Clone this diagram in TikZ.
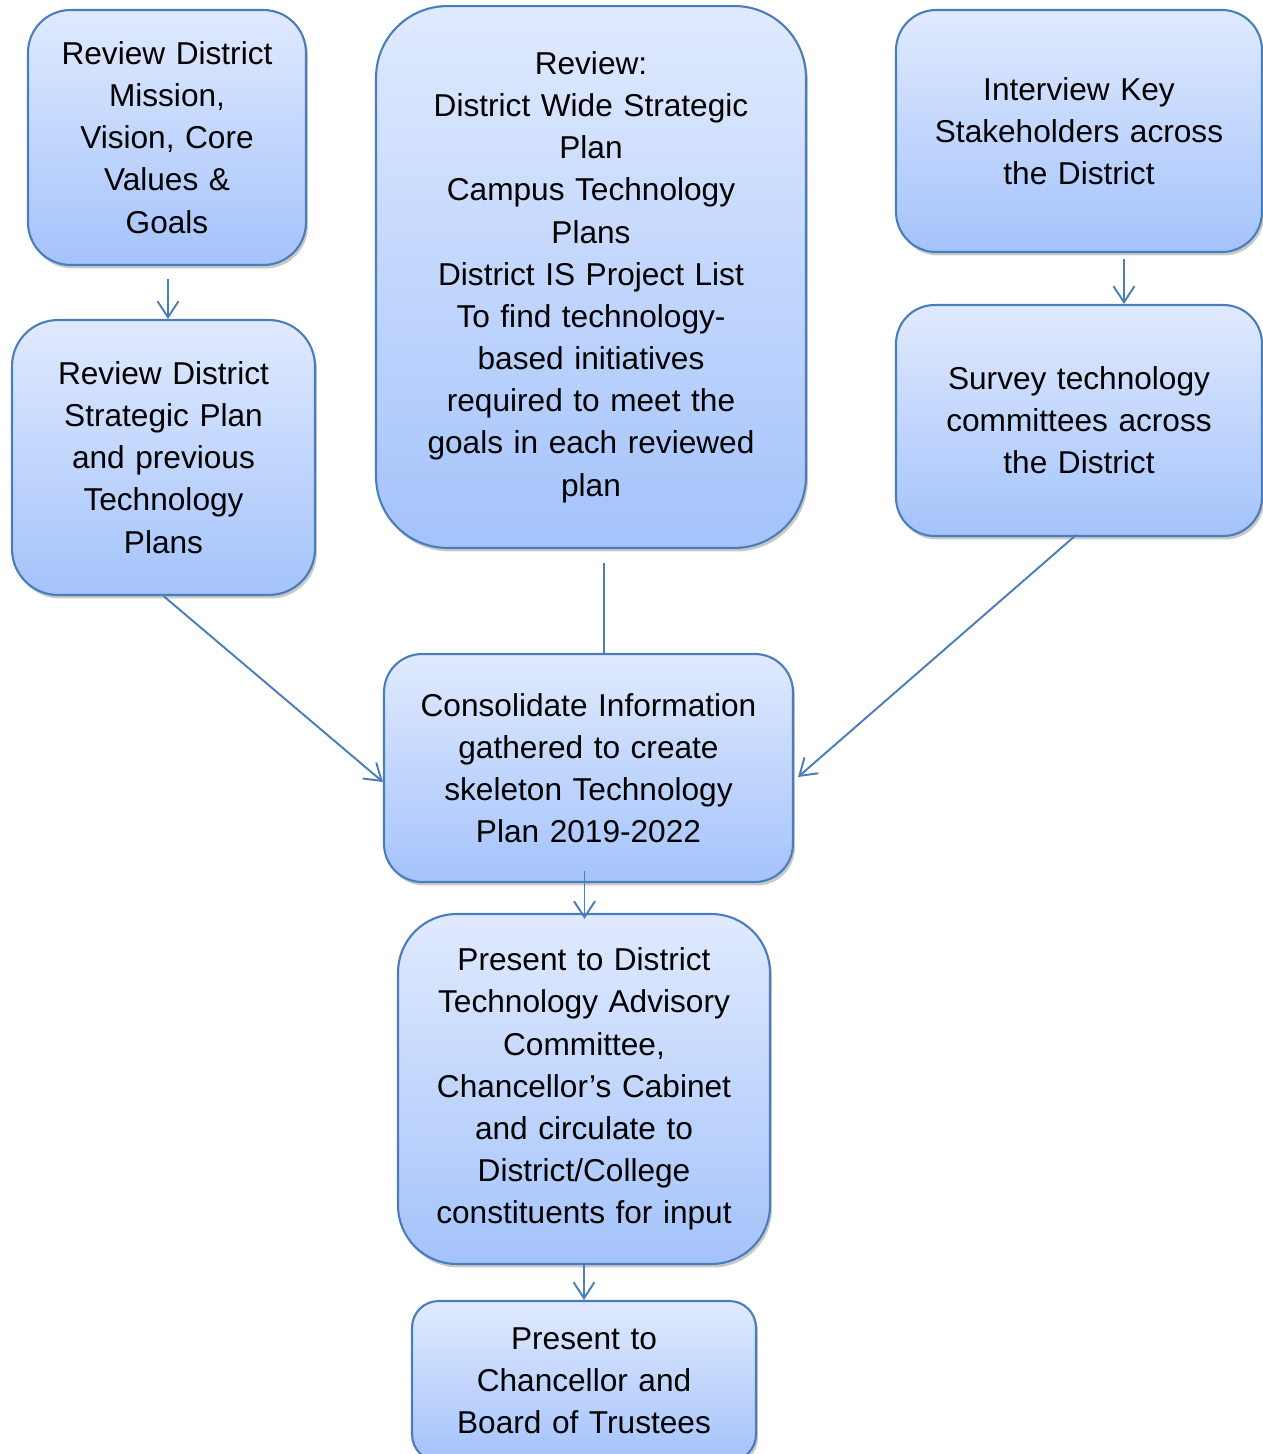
\documentclass[tikz,border=0pt]{standalone}
\usepackage{fontspec}
\setmainfont{Liberation Sans}
\usetikzlibrary{arrows.meta,calc,shadows}
\definecolor{boxline}{HTML}{4A7EBB}
\definecolor{boxtop}{HTML}{E0EAFE}
\definecolor{boxbottom}{HTML}{A4C3FB}

\begin{document}
\begin{tikzpicture}[x=0.02cm, y=-0.02cm,
  stepbox/.style={draw=boxline, line width=1.2pt, top color=boxtop, bottom color=boxbottom,
    drop shadow={shadow xshift=0.04cm, shadow yshift=-0.07cm, opacity=0.3, fill=black!70},
    align=center, inner sep=0pt, font=\fontsize{18}{24}\selectfont},
  link/.style={boxline, line width=1.1pt, -{Straight Barb[length=0.32cm,width=0.42cm]}}]
  \path[use as bounding box, clip] (0,0) rectangle (1263,1454);

  \node[stepbox, minimum width=5.56cm, minimum height=5.1cm, rounded corners=0.85cm, text width=5.2cm]
    (revmission) at (167,137.5) {Review District\\Mission,\\Vision, Core\\Values \&\\Goals};
  \node[stepbox, minimum width=6.06cm, minimum height=5.5cm, rounded corners=0.92cm, text width=5.7cm]
    (revplan) at (163.5,457.5) {Review District\\Strategic Plan\\and previous\\Technology\\Plans};
  \node[stepbox, minimum width=8.6cm, minimum height=10.84cm, rounded corners=1.43cm, text width=8.2cm]
    (revstrat) at (591,277) {Review:\\District Wide Strategic\\Plan\\Campus Technology\\Plans\\District IS Project List\\To find technology-\\based initiatives\\required to meet the\\goals in each reviewed\\plan};
  \node[stepbox, minimum width=7.32cm, minimum height=4.84cm, rounded corners=0.8cm, text width=6.9cm]
    (interview) at (1079,131) {Interview Key\\Stakeholders across\\the District};
  \node[stepbox, minimum width=7.32cm, minimum height=4.62cm, rounded corners=0.77cm, text width=6.9cm]
    (survey) at (1079,420.5) {Survey technology\\committees across\\the District};
  \node[stepbox, minimum width=8.18cm, minimum height=4.56cm, rounded corners=0.76cm, text width=7.8cm]
    (consolidate) at (588.5,768) {Consolidate Information\\gathered to create\\skeleton Technology\\Plan 2019-2022};
  \node[stepbox, minimum width=7.44cm, minimum height=7cm, rounded corners=1.17cm, text width=7.1cm]
    (present) at (584,1089) {Present to District\\Technology Advisory\\Committee,\\Chancellor’s Cabinet\\and circulate to\\District/College\\constituents for input};
  \node[stepbox, minimum width=6.88cm, minimum height=3.2cm, rounded corners=0.53cm, text width=6.5cm]
    (board) at (584,1381) {Present to\\Chancellor and\\Board of Trustees};

  % connectors
  \draw[link] ($(revmission.south)+(1,13)$) coordinate (a1) -- (a1 |- revplan.north);
  \draw[link] ($(interview.south)+(45,6)$) coordinate (d1) -- (d1 |- survey.north);
  \draw[link, -] ($(revstrat.south)+(13,14)$) coordinate (c1) -- (c1 |- consolidate.north);
  \draw[link] (revplan.south) -- ($(consolidate.west)+(0,14)$);
  \draw[link] ($(survey.south)+(-3,-2)$) -- ($(consolidate.east)+(4,9)$);
  \draw[link] ($(consolidate.south)+(-4,-12)$) coordinate (f1) -- ($(f1 |- present.north)+(0,6)$);
  \draw[link] (present.south) -- (board.north);
\end{tikzpicture}
\end{document}
